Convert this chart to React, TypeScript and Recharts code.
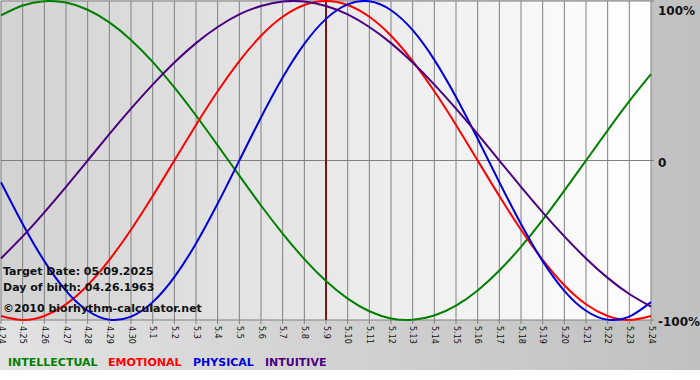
import { LineChart, Line, XAxis, YAxis, CartesianGrid, ReferenceLine } from "recharts";

// days shown on the chart (month.day)
const days = [
    "4.24", "4.25", "4.26", "4.27", "4.28", "4.29", "4.30",
    "5.1", "5.2", "5.3", "5.4", "5.5", "5.6", "5.7", "5.8", "5.9", "5.10",
    "5.11", "5.12", "5.13", "5.14", "5.15", "5.16", "5.17", "5.18", "5.19",
    "5.20", "5.21", "5.22", "5.23", "5.24",
];

const intellectual = [
    0.91, 0.972, 0.999, 0.99, 0.945, 0.866, 0.756, 0.618, 0.458, 0.282, 0.095,
    -0.095, -0.282, -0.458, -0.618, -0.756, -0.866, -0.945, -0.99, -0.999, -0.972,
    -0.91, -0.815, -0.69, -0.541, -0.372, -0.189, 0, 0.189, 0.372, 0.541,
];
const emotional = [
    -0.975, -1.0, -0.975, -0.901, -0.782, -0.623, -0.434, -0.223, 0, 0.223, 0.434,
    0.623, 0.782, 0.901, 0.975, 1.0, 0.975, 0.901, 0.782, 0.623, 0.434, 0.223, 0,
    -0.223, -0.434, -0.623, -0.782, -0.901, -0.975, -1.0, -0.975,
];
const physical = [
    -0.136, -0.398, -0.631, -0.817, -0.942, -0.998, -0.979, -0.888, -0.731, -0.52,
    -0.27, 0, 0.27, 0.52, 0.731, 0.888, 0.979, 0.998, 0.942, 0.817, 0.631, 0.398,
    0.136, -0.136, -0.398, -0.631, -0.817, -0.942, -0.998, -0.979, -0.888,
];
const intuitive = [
    -0.614, -0.476, -0.325, -0.165, 0, 0.165, 0.325, 0.476, 0.614, 0.736, 0.837,
    0.916, 0.969, 0.997, 0.997, 0.969, 0.916, 0.837, 0.736, 0.614, 0.476, 0.325,
    0.165, 0, -0.165, -0.325, -0.476, -0.614, -0.736, -0.837, -0.916,
];

const yTicks = [-1, 0, 1];
const targetDay = "5.9";

const series = [
    { key: "intellectual", name: "INTELLECTUAL", color: "#008000", x: 8 },
    { key: "emotional", name: "EMOTIONAL", color: "#ff0000", x: 108 },
    { key: "physical", name: "PHYSICAL", color: "#0000dd", x: 193 },
    { key: "intuitive", name: "INTUITIVE", color: "#4b0082", x: 265 },
];

const data = days.map((day, i) => ({
    day,
    intellectual: intellectual[i],
    emotional: emotional[i],
    physical: physical[i],
    intuitive: intuitive[i],
}));

const FONT = "'DejaVu Sans', Verdana, sans-serif";

const DayTick = ({ x, y, payload }: any) => (
    <text
        x={x}
        y={y}
        transform={`rotate(90, ${x}, ${y})`}
        textAnchor="start"
        dominantBaseline="central"
        fontSize={8}
        fontFamily={FONT}
        fill="#111"
    >
        {payload.value}
    </text>
);

const PctTick = ({ x, y, payload }: any) => {
    const v = payload.value;
    const label = v === 1 ? "100%" : v === 0 ? "0" : "-100%";
    return (
        <text
            x={x}
            y={Math.max(y + 2, 7)}
            dominantBaseline="central"
            fontSize={12}
            fontWeight="bold"
            fontFamily={FONT}
            fill="#111"
        >
            {label}
        </text>
    );
};

export default function App() {
    return (
        <div
            style={{
                position: "absolute",
                left: 0,
                top: 0,
                width: 700,
                height: 370,
                background: "linear-gradient(to right, #e2e2e2, #c0c0c0)",
            }}
        >
            <LineChart
                width={700}
                height={370}
                data={data}
                margin={{ top: 1, right: 0, bottom: 0, left: 1 }}
            >
                <defs>
                    <linearGradient id="plotBg" x1="0" y1="0" x2="1" y2="0">
                        <stop offset="0%" stopColor="#d2d2d2" />
                        <stop offset="100%" stopColor="#ffffff" />
                    </linearGradient>
                </defs>
                <CartesianGrid
                    stroke="#808080"
                    fill="url(#plotBg)"
                    fillOpacity={1}
                />
                <XAxis
                    dataKey="day"
                    interval={0}
                    height={50}
                    tickSize={4}
                    tickMargin={2}
                    tickLine={{ stroke: "#808080" }}
                    axisLine={false}
                    tick={<DayTick />}
                />
                <YAxis
                    orientation="right"
                    domain={[-1, 1]}
                    ticks={yTicks}
                    width={49}
                    tickSize={3}
                    tickMargin={4}
                    tickLine={{ stroke: "#808080" }}
                    axisLine={false}
                    tick={<PctTick />}
                />
                <ReferenceLine x={targetDay} stroke="#7f1414" strokeWidth={2} />
                {series.map((s) => (
                    <Line
                        key={s.key}
                        type="natural"
                        dataKey={s.key}
                        stroke={s.color}
                        strokeWidth={2}
                        dot={false}
                        isAnimationActive={false}
                    />
                ))}
            </LineChart>

            <svg
                width={700}
                height={370}
                style={{ position: "absolute", left: 0, top: 0, pointerEvents: "none" }}
                fontFamily={FONT}
                fontWeight="bold"
                fontSize={11}
            >
                <text x={3} y={275} fill="#111">Target Date: 05.09.2025</text>
                <text x={3} y={291} fill="#111">Day of birth: 04.26.1963</text>
                <text x={3} y={312} fill="#111">©2010 biorhythm-calculator.net</text>
                {series.map((s) => (
                    <text key={s.key} x={s.x} y={366} fill={s.color}>
                        {s.name}
                    </text>
                ))}
            </svg>
        </div>
    );
}
